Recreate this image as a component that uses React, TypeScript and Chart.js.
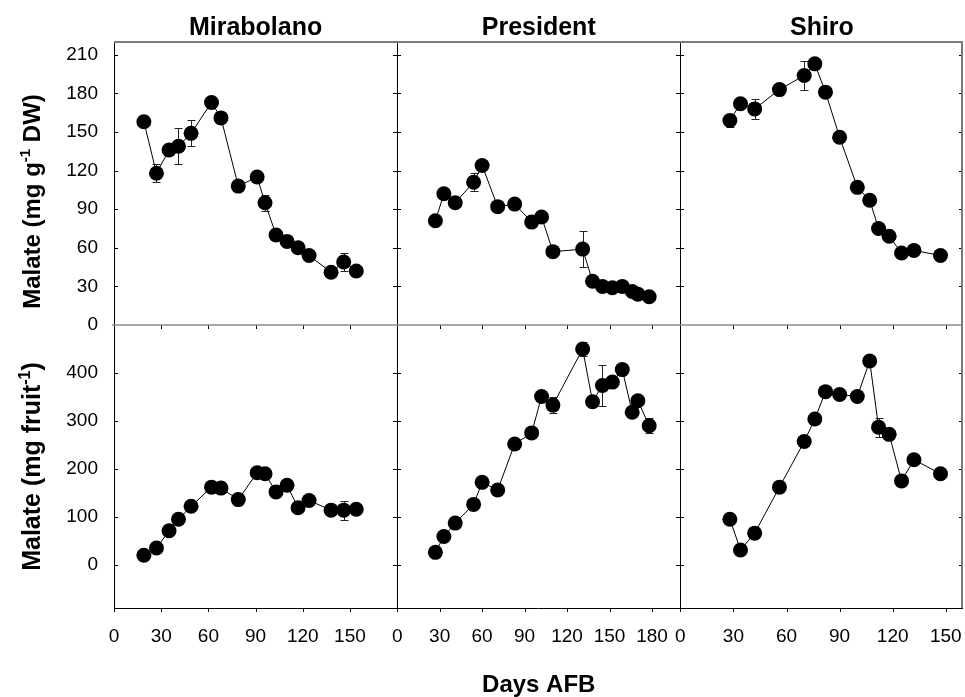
import React, { useEffect, useRef } from "react";
import { Chart, registerables } from "chart.js";
Chart.register(...registerables);

const panelTitles = ["Mirabolano", "President", "Shiro"];
const xAxisTitle = "Days AFB";
const yTitleTop = ["Malate (mg g", "-1", " DW)"];
const yTitleBot = ["Malate (mg fruit", "-1", ")"];

const xTicksM = [0, 30, 60, 90, 120, 150];
const xTicksP = [0, 30, 60, 90, 120, 150, 180];
const xTicksS = [0, 30, 60, 90, 120, 150];
const yTicksTop = [0, 30, 60, 90, 120, 150, 180, 210];
const yTicksBot = [0, 100, 200, 300, 400];

// Mirabolano
const mirDays = [19, 27, 35, 41, 49, 62, 68, 79, 91, 96, 103, 110, 117, 124, 138, 146, 154];
const mirDW = [158, 118, 136, 139, 149, 173, 161, 108, 115, 95, 70, 65, 60, 54, 41, 49, 42];
const mirDWErr = [0, 7, 0, 14, 10, 0, 0, 0, 0, 6, 0, 0, 0, 0, 0, 7, 0];
const mirFruit = [20, 35, 71, 95, 122, 162, 160, 136, 192, 190, 152, 166, 119, 134, 114, 114, 116];
const mirFruitErr = [0, 0, 0, 0, 0, 0, 0, 0, 0, 12, 0, 0, 0, 0, 0, 20, 0];

// President
const presDays = [27, 33, 41, 54, 60, 71, 83, 95, 102, 110, 131, 138, 145, 152, 159, 166, 170, 178];
const presDW = [81, 102, 95, 111, 124, 92, 94, 80, 84, 57, 59, 34, 30, 29, 30, 26, 24, 22];
const presDWErr = [0, 0, 0, 7, 0, 0, 0, 0, 0, 0, 14, 0, 0, 0, 0, 0, 0, 0];
const presFruit = [26, 59, 87, 126, 172, 156, 252, 275, 351, 333, 450, 340, 374, 381, 407, 318, 342, 290];
const presFruitErr = [0, 0, 0, 0, 0, 0, 0, 0, 0, 16, 15, 0, 42, 0, 0, 0, 0, 16];

// Shiro
const shiDays = [28, 34, 42, 56, 70, 76, 82, 90, 100, 107, 112, 118, 125, 132, 147];
const shiDW = [159, 172, 168, 183, 194, 203, 181, 146, 107, 97, 75, 69, 56, 58, 54];
const shiDWErr = [5, 0, 8, 0, 11, 0, 0, 3, 0, 0, 4, 0, 0, 0, 3];
const shiFruit = [95, 31, 66, 162, 257, 304, 361, 355, 351, 425, 287, 272, 175, 219, 190];
const shiFruitErr = [0, 0, 0, 0, 8, 0, 0, 0, 8, 0, 20, 7, 0, 0, 7];

const FONT = "'Liberation Sans', Arial, Helvetica, sans-serif";
const CANVAS_W = 971;

const series = [
  { days: mirDays, vals: mirDW, err: mirDWErr, x: "xM", y: "yTop" },
  { days: presDays, vals: presDW, err: presDWErr, x: "xP", y: "yTop" },
  { days: shiDays, vals: shiDW, err: shiDWErr, x: "xS", y: "yTop" },
  { days: mirDays, vals: mirFruit, err: mirFruitErr, x: "xM", y: "yBot" },
  { days: presDays, vals: presFruit, err: presFruitErr, x: "xP", y: "yBot" },
  { days: shiDays, vals: shiFruit, err: shiFruitErr, x: "xS", y: "yBot" },
];

function zeroPad(s: any) {
  s.paddingLeft = 0;
  s.paddingRight = 0;
  s.paddingTop = 0;
  s.paddingBottom = 0;
}

function xScale(max: number, ticks: number[]) {
  return {
    type: "linear",
    position: "bottom",
    stack: "cols",
    stackWeight: 1,
    min: 0,
    max,
    afterBuildTicks: (s: any) => {
      s.ticks = ticks.map((v) => ({ value: v }));
    },
    afterFit: (s: any) => {
      s.height = 89;
      zeroPad(s);
    },
    grid: { display: false, drawTicks: false },
    border: { display: false },
    ticks: {
      autoSkip: false,
      maxRotation: 0,
      padding: 17,
      color: "#000",
      font: { family: FONT, size: 19 },
    },
  };
}

function yScale(min: number, max: number, ticks: number[], weight: number) {
  return {
    type: "linear",
    position: "left",
    stack: "rows",
    stackWeight: 1,
    weight,
    min,
    max,
    afterBuildTicks: (s: any) => {
      s.ticks = ticks.map((v) => ({ value: v }));
    },
    afterFit: (s: any) => {
      s.width = 114;
      zeroPad(s);
    },
    grid: { display: false, drawTicks: false },
    border: { display: false },
    ticks: {
      autoSkip: false,
      padding: 16,
      color: "#000",
      font: { family: FONT, size: 19 },
    },
  };
}

const framePlugin = {
  id: "frame",
  beforeDatasetsDraw(chart: any) {
    const ctx = chart.ctx;
    const s = chart.scales;
    const cols = [s.xM, s.xP, s.xS];
    const colTicks = [xTicksM, xTicksP, xTicksS];
    const rows = [s.yTop, s.yBot];
    const rowTicks = [yTicksTop, yTicksBot];
    const L = Math.round(cols[0].left);
    const R = Math.round(cols[2].right);
    const T = Math.round(rows[0].top);
    const B = Math.round(rows[1].bottom);
    const M = Math.round(rows[0].bottom);
    ctx.save();
    ctx.strokeStyle = "#000";
    ctx.lineWidth = 1;
    ctx.beginPath();
    cols.forEach((c: any, ci: number) => {
      const cl = Math.round(c.left);
      const cr = Math.round(c.right);
      rows.forEach((r: any, ri: number) => {
        rowTicks[ri].forEach((v) => {
          const y = Math.round(r.getPixelForValue(v)) + 0.5;
          if (y <= r.top + 2 || y >= r.bottom - 2) return;
          ctx.moveTo(cl, y);
          ctx.lineTo(cl + 4, y);
          ctx.moveTo(cr - 4, y);
          ctx.lineTo(cr, y);
        });
      });
      colTicks[ci].forEach((v) => {
        const x = Math.round(c.getPixelForValue(v)) + 0.5;
        ctx.moveTo(x, B);
        ctx.lineTo(x, B + 4);
        if (x > cl + 2 && x < cr - 2) {
          ctx.moveTo(x, M);
          ctx.lineTo(x, M + 4);
        }
      });
    });
    ctx.stroke();

    // vertical dividers + left axis + bottom axis
    ctx.beginPath();
    cols.forEach((c: any) => {
      const x = Math.round(c.left) + 0.5;
      ctx.moveTo(x, T);
      ctx.lineTo(x, B);
    });
    ctx.moveTo(L, B + 0.5);
    ctx.lineTo(R, B + 0.5);
    ctx.stroke();

    // middle divider
    ctx.strokeStyle = "#8c8c8c";
    ctx.lineWidth = 1.5;
    ctx.beginPath();
    ctx.moveTo(L - 2, M);
    ctx.lineTo(R, M);
    ctx.stroke();

    // top & right border
    ctx.strokeStyle = "#7a7a7a";
    ctx.lineWidth = 2;
    ctx.beginPath();
    ctx.moveTo(L, T);
    ctx.lineTo(R - 1, T);
    ctx.lineTo(R - 1, B);
    ctx.stroke();

    // error bars
    ctx.strokeStyle = "#222";
    ctx.lineWidth = 1;
    ctx.beginPath();
    series.forEach((sr) => {
      const xs = s[sr.x];
      const ys = s[sr.y];
      sr.days.forEach((d, i) => {
        const e = sr.err[i];
        if (!e) return;
        const x = Math.round(xs.getPixelForValue(d)) + 0.5;
        const y1 = Math.round(ys.getPixelForValue(sr.vals[i] + e)) + 0.5;
        const y2 = Math.round(ys.getPixelForValue(sr.vals[i] - e)) + 0.5;
        ctx.moveTo(x, y1);
        ctx.lineTo(x, y2);
        ctx.moveTo(x - 4, y1);
        ctx.lineTo(x + 4, y1);
        ctx.moveTo(x - 4, y2);
        ctx.lineTo(x + 4, y2);
      });
    });
    ctx.stroke();
    ctx.restore();
  },
  afterDraw(chart: any) {
    const ctx = chart.ctx;
    const s = chart.scales;
    const cols = [s.xM, s.xP, s.xS];
    const rows = [s.yTop, s.yBot];
    ctx.save();
    ctx.fillStyle = "#000";
    ctx.font = `bold 25px ${FONT}`;
    ctx.textAlign = "center";
    ctx.textBaseline = "alphabetic";
    cols.forEach((c: any, i: number) => {
      ctx.fillText(panelTitles[i], (c.left + c.right) / 2, rows[0].top - 7);
    });
    ctx.font = `bold 24px ${FONT}`;
    ctx.fillText(xAxisTitle, (cols[0].left + cols[2].right) / 2, 692);

    const drawY = (parts: string[], cy: number, size: number) => {
      ctx.save();
      ctx.translate(40, cy);
      ctx.rotate(-Math.PI / 2);
      ctx.textAlign = "left";
      const big = `bold ${size}px ${FONT}`;
      const small = `bold ${Math.round(size * 0.62)}px ${FONT}`;
      ctx.font = big;
      const w0 = ctx.measureText(parts[0]).width;
      const w2 = ctx.measureText(parts[2]).width;
      ctx.font = small;
      const w1 = ctx.measureText(parts[1]).width;
      let x = -(w0 + w1 + w2) / 2;
      ctx.font = big;
      ctx.fillText(parts[0], x, 0);
      x += w0;
      ctx.font = small;
      ctx.fillText(parts[1], x, -10);
      x += w1;
      ctx.font = big;
      ctx.fillText(parts[2], x, 0);
      ctx.restore();
    };
    drawY(yTitleTop, (rows[0].top + rows[0].bottom) / 2 + 18, 24);
    drawY(yTitleBot, (rows[1].top + rows[1].bottom) / 2, 25);
    ctx.restore();
  },
};

export default function App() {
  const ref = useRef<HTMLCanvasElement>(null);
  useEffect(() => {
    const chart = new Chart(ref.current as HTMLCanvasElement, {
      type: "scatter",
      data: {
        datasets: series.map((sr) => ({
          data: sr.days.map((d, i) => ({ x: d, y: sr.vals[i] })),
          xAxisID: sr.x,
          yAxisID: sr.y,
          showLine: true,
          borderColor: "#000",
          borderWidth: 1,
          pointRadius: 7.5,
          pointBackgroundColor: "#000",
          pointBorderColor: "#000",
          pointBorderWidth: 0,
          tension: 0,
        })),
      },
      options: {
        responsive: false,
        animation: false,
        events: [],
        layout: { padding: { top: 42, right: 2, left: 0, bottom: 0 } },
        plugins: { legend: { display: false }, tooltip: { enabled: false }, title: { display: false } },
        scales: {
          xM: xScale(180, xTicksM),
          xP: xScale(200, xTicksP),
          xS: xScale(160, xTicksS),
          yTop: yScale(0, 220, yTicksTop, 1),
          yBot: yScale(-90, 500, yTicksBot, 0),
        },
      } as any,
      plugins: [framePlugin],
    } as any);
    return () => chart.destroy();
  }, []);
  return (
    <div
      style={{
        position: "absolute",
        left: 0,
        top: 0,
        width: 965,
        height: 697,
        overflow: "hidden",
        background: "#fff",
      }}
    >
      <canvas
        ref={ref}
        width={CANVAS_W}
        height={697}
        style={{ display: "block", width: CANVAS_W, height: 697 }}
      />
    </div>
  );
}
